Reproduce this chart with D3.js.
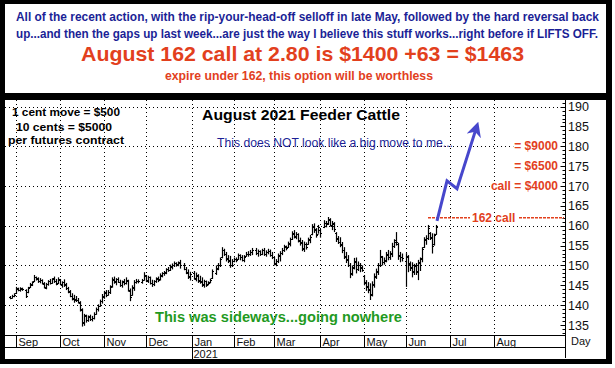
<!DOCTYPE html>
<meta charset="utf-8">
<script src="https://d3js.org/d3.v7.min.js"></script>
<style>
  body { margin: 0; background: #fff; }
  text { font-family: "Liberation Sans", Arial, sans-serif; }
</style>
<div id="chart"></div>
<script>

// daily bars, one per weekday starting Thu 27 Aug 2020 (null = exchange holiday)
var startDay = new Date(Date.UTC(2020, 7, 27));

var highs = [
  142.3,142.6,143.0,144.6,144.4,144.5,144.4,null,144.0,144.6,
  145.6,146.0,147.6,147.2,147.0,146.8,146.5,145.8,145.6,146.3,
  146.6,146.8,147.2,146.6,147.0,146.6,146.0,146.5,145.6,144.6,
  143.8,143.0,142.6,142.3,141.8,141.0,139.2,137.8,137.6,137.4,
  137.6,137.3,138.2,139.4,140.2,141.4,142.8,143.6,143.8,143.8,
  145.0,147.0,147.2,146.8,147.0,146.4,146.2,146.6,147.0,146.4,
  144.2,145.0,146.3,146.6,146.5,null,146.6,148.3,147.6,147.4,
  147.2,146.4,146.3,147.0,147.2,148.0,148.3,148.6,149.3,149.6,
  150.2,150.5,151.0,150.8,151.0,151.4,null,150.6,149.6,149.0,
  148.4,null,148.6,148.2,147.8,147.4,147.0,146.4,146.2,146.0,
  146.7,149.0,null,150.0,150.6,152.0,154.6,154.2,153.4,152.6,
  152.4,151.6,152.0,152.0,153.0,152.8,152.6,152.6,153.4,153.6,
  153.9,154.4,null,154.4,154.0,153.8,154.2,154.4,153.8,154.2,
  154.0,153.4,152.2,151.6,153.0,153.6,154.4,155.2,155.0,156.0,
  157.0,158.6,158.9,158.4,158.1,157.0,156.4,156.0,155.8,157.0,
  157.7,160.4,160.6,159.4,160.2,159.2,null,161.4,161.2,162.2,
  161.9,161.2,160.9,158.4,157.4,157.1,155.9,154.6,153.4,152.6,
  150.6,150.0,151.9,152.0,151.0,150.6,150.0,147.6,146.3,145.8,
  145.5,146.0,148.0,149.2,150.6,153.9,152.4,152.0,153.4,153.9,
  153.6,155.7,156.6,158.4,155.7,153.4,153.0,null,153.1,152.6,
  151.0,150.8,150.4,150.6,151.4,152.0,154.6,157.1,157.6,160.2,
  158.4,158.1,158.0,160.2
];

var lows = [
  141.5,141.7,142.0,142.8,143.5,143.4,143.6,null,141.8,143.0,
  144.3,144.8,145.8,146.2,145.6,145.5,145.2,144.2,144.0,144.9,
  145.2,145.4,145.6,145.0,145.3,145.0,144.4,144.6,143.8,143.0,
  142.0,141.2,140.6,140.8,140.4,138.4,134.6,134.8,135.6,135.8,
  136.0,135.9,136.4,137.6,138.4,139.6,140.4,141.6,142.0,142.4,
  142.8,144.4,145.4,145.0,145.6,144.6,144.4,145.0,145.2,143.4,
  141.0,142.4,143.6,145.4,145.5,null,145.4,146.2,145.8,145.6,
  145.2,144.6,144.8,145.6,145.8,146.2,147.0,147.4,147.8,148.4,
  148.6,149.0,149.6,149.7,149.8,149.2,null,148.8,147.8,146.6,
  146.2,null,146.4,146.0,145.6,145.4,144.6,144.4,144.6,145.0,
  145.5,146.6,null,147.6,148.8,149.6,151.8,152.4,151.0,150.6,
  149.4,149.6,150.8,150.8,151.4,151.3,151.0,150.8,152.2,152.2,
  152.4,152.6,null,152.6,152.2,152.4,152.6,152.4,152.2,152.8,
  152.2,151.6,150.0,149.8,150.6,151.0,152.6,153.4,153.8,154.4,
  154.8,156.4,156.8,156.6,155.8,155.0,153.6,153.4,154.0,155.2,
  155.6,157.6,158.2,157.0,158.0,157.0,null,159.4,159.6,160.2,
  159.8,158.9,158.4,155.9,155.4,154.6,153.1,151.6,150.6,149.6,
  146.8,147.4,149.0,148.0,148.6,148.3,148.4,145.0,143.6,143.0,
  141.3,142.2,144.4,146.6,147.6,149.6,150.0,150.2,150.8,151.3,
  151.4,152.1,154.4,155.0,151.4,150.8,151.0,null,144.6,148.3,
  148.6,147.0,147.6,147.6,146.3,148.6,150.8,154.4,155.2,156.4,
  156.4,153.0,155.0,157.7
];

var closes = [
  141.8,142.4,142.6,144.0,143.9,144.1,144.0,null,142.4,144.4,
  145.2,145.8,147.2,146.6,146.2,146.4,145.6,144.6,145.2,146.0,
  145.6,146.5,146.0,145.4,146.6,145.3,145.8,145.0,144.2,143.4,
  142.3,141.8,141.4,141.2,140.8,139.0,135.8,137.4,136.2,137.0,
  136.4,136.8,137.8,139.0,139.8,141.0,142.2,143.0,142.6,143.4,
  144.6,146.4,146.0,146.6,145.8,145.0,145.8,145.6,146.4,143.8,
  142.0,144.6,145.8,146.2,146.0,null,146.3,147.6,146.4,147.0,
  145.6,145.4,146.0,146.6,146.4,147.6,148.0,148.4,149.0,148.8,
  149.8,150.2,150.6,150.4,150.6,150.0,null,149.0,148.2,147.4,
  147.8,null,146.8,147.6,146.2,145.8,145.2,146.0,145.0,145.6,
  146.4,148.6,null,149.4,150.2,151.6,154.0,153.0,151.6,151.2,
  150.0,151.0,151.6,151.4,152.6,152.0,151.4,152.2,153.0,152.8,
  153.4,154.0,null,153.2,153.6,152.8,153.8,153.0,153.4,153.6,
  152.6,152.2,150.6,151.0,152.6,153.2,154.0,154.6,154.4,155.6,
  156.6,158.0,157.4,157.8,156.2,155.6,154.4,155.4,154.6,156.6,
  157.2,159.8,159.0,157.6,159.6,158.2,null,160.8,160.4,161.6,
  160.2,160.6,159.2,156.6,155.8,155.4,154.0,152.2,151.4,150.2,
  148.0,149.6,150.8,149.0,150.2,149.4,148.8,145.6,144.6,143.8,
  142.6,145.2,147.4,148.6,150.0,152.4,150.8,151.4,152.6,152.0,
  153.0,154.8,156.0,156.0,152.6,152.0,151.8,null,152.4,150.4,
  149.4,148.6,149.8,148.6,150.8,151.6,154.2,156.6,156.8,159.4,
  157.2,155.0,157.6,159.8
];

var opens = [
  142.0,141.9,142.3,143.0,144.2,143.8,144.2,null,143.8,143.2,
  144.5,145.0,146.0,147.0,146.8,146.0,146.3,145.4,144.4,145.2,
  146.2,145.6,146.8,146.2,145.5,146.4,145.0,145.9,145.2,144.3,
  143.5,142.4,141.6,141.6,141.4,140.6,138.8,135.6,137.2,136.2,
  137.2,136.4,136.8,137.8,139.0,139.8,141.0,142.0,143.2,142.6,
  143.2,144.8,146.6,145.8,146.6,145.8,145.0,146.0,145.6,146.2,
  143.6,142.6,144.4,145.8,146.2,null,145.8,146.4,147.4,146.2,
  147.0,145.6,145.2,146.0,146.8,146.6,147.4,148.0,148.2,149.2,
  148.8,149.6,150.0,150.6,150.2,150.8,null,150.2,149.2,148.4,
  147.2,null,148.0,146.6,147.4,146.4,146.0,145.0,146.0,145.2,
  145.8,146.8,null,148.2,149.2,150.0,152.0,153.8,153.0,151.8,
  151.4,150.2,151.0,151.6,151.6,152.6,152.0,151.4,152.4,153.0,
  152.8,153.4,null,154.0,153.2,153.6,152.8,153.8,153.0,153.4,
  153.6,152.6,152.0,150.4,151.0,152.4,153.2,154.0,154.8,154.6,
  155.4,156.6,158.2,157.2,157.8,156.4,155.8,154.2,155.4,155.4,
  156.4,157.8,160.0,159.2,158.0,159.0,null,159.6,160.8,160.6,
  161.4,160.0,160.4,158.2,156.8,156.0,155.2,154.0,152.4,151.6,
  150.0,147.8,149.4,151.0,149.0,150.2,149.6,147.4,145.8,144.8,
  144.0,142.8,145.0,147.2,148.4,150.2,152.2,150.8,151.2,152.8,
  152.2,153.2,154.8,156.4,155.4,152.4,152.2,null,151.0,152.0,
  150.6,149.6,148.4,150.0,148.4,150.6,151.8,154.6,156.4,156.8,
  158.2,157.0,155.4,157.8
];

// axis labels
var monthLabels = ["Sep","Oct","Nov","Dec","Jan","Feb","Mar","Apr","May","Jun","Jul","Aug"];
var yearLabel = "2021";
var yTicks = [135, 140, 145, 150, 155, 160, 165, 170, 175, 180, 185, 190];
var yGrid = [140, 150, 160, 170, 180, 190];

// option payoff notes (price level, text)
var payoffLevels = [180, 175, 170];
var payoffTexts = ["= $9000", "= $6500", "call = $4000"];
var strike = 162;

// projected path of the arrow (weekday index, price)
var arrowIdx = [213.5, 218.5, 223.5, 233];
var arrowPrice = [161.2, 171.3, 169.3, 184.4];

var W = 615, H = 368;
var plotLeft = 5, plotRight = 565, plotTop = 100, plotBottom = 335;

var svg = d3.select("#chart").append("svg")
    .attr("width", W)
    .attr("height", H);

// frame: black outer band, two white panels
svg.append("rect").attr("x", 0).attr("y", 0).attr("width", 612).attr("height", 364).attr("fill", "#000");
svg.append("rect").attr("x", 5).attr("y", 4).attr("width", 601).attr("height", 89).attr("fill", "#fff");
svg.append("rect").attr("x", 5).attr("y", 100).attr("width", 601).attr("height", 259).attr("fill", "#fff");

// ---- top commentary
var navy = "#1b1f96", red = "#e2401d", green = "#1f9a22", arrowBlue = "#4747cc";

svg.append("text").attr("x", 16).attr("y", 21)
  .attr("font-size", 12).attr("font-weight", "bold").attr("fill", navy)
  .attr("textLength", 583).attr("lengthAdjust", "spacingAndGlyphs")
  .text("All of the recent action, with the rip-your-head-off selloff in late May, followed by the hard reversal back");
svg.append("text").attr("x", 16).attr("y", 38)
  .attr("font-size", 12).attr("font-weight", "bold").attr("fill", navy)
  .attr("textLength", 582).attr("lengthAdjust", "spacingAndGlyphs")
  .text("up...and then the gaps up last week...are just the way I believe this stuff works...right before if LIFTS OFF.");
svg.append("text").attr("x", 81).attr("y", 61)
  .attr("font-size", 21).attr("font-weight", "bold").attr("fill", red)
  .attr("textLength", 443).attr("lengthAdjust", "spacingAndGlyphs")
  .text("August 162 call at 2.80 is $1400 +63 = $1463");
svg.append("text").attr("x", 165).attr("y", 80)
  .attr("font-size", 12).attr("font-weight", "bold").attr("fill", red)
  .attr("textLength", 268).attr("lengthAdjust", "spacingAndGlyphs")
  .text("expire under 162, this option will be worthless");

// ---- scales
var days = d3.utcDays(startDay, new Date(Date.UTC(2021, 8, 20)))
  .filter(function(d) { return d.getUTCDay() % 6 !== 0; });

var x = d3.scaleLinear().domain([-2.5, 277.5]).range([plotLeft, plotRight]);
var y = d3.scaleLinear().domain([135, 190]).range([325, 106.6]);

// first weekday of every month
var monthStarts = [];
days.forEach(function(d, i) {
  if (i > 0 && d.getUTCMonth() !== days[i - 1].getUTCMonth() && x(i) < plotRight) monthStarts.push(i);
});
monthStarts = monthStarts.slice(0, monthLabels.length);

function px(v) { return Math.round(v) + 0.5; }

// ---- dotted grid
var grid = svg.append("g").attr("stroke", "#000").attr("stroke-width", 1).attr("stroke-dasharray", "1,3");
grid.selectAll(".hg").data(yGrid).enter().append("line")
  .attr("x1", plotLeft).attr("x2", plotRight)
  .attr("y1", function(d) { return px(y(d)); })
  .attr("y2", function(d) { return px(y(d)); });
grid.selectAll(".vg").data(monthStarts).enter().append("line")
  .attr("x1", function(d) { return px(x(d)); })
  .attr("x2", function(d) { return px(x(d)); })
  .attr("y1", plotTop).attr("y2", plotBottom);

// ---- OHLC bars
var bars = svg.append("g").attr("stroke", "#000").attr("stroke-width", 1.2);
highs.forEach(function(h, i) {
  if (h === null) return;
  var cx = px(x(i));
  bars.append("line").attr("x1", cx).attr("x2", cx).attr("y1", y(h)).attr("y2", y(lows[i]));
  bars.append("line").attr("x1", cx - 1.5).attr("x2", cx).attr("y1", px(y(opens[i]))).attr("y2", px(y(opens[i])));
  bars.append("line").attr("x1", cx).attr("x2", cx + 1.5).attr("y1", px(y(closes[i]))).attr("y2", px(y(closes[i])));
});

// ---- right price axis
var axis = svg.append("g");
axis.append("line").attr("x1", px(plotRight)).attr("x2", px(plotRight))
  .attr("y1", plotTop).attr("y2", 358).attr("stroke", "#000");
axis.selectAll(".minor").data(d3.range(133, 192)).enter().append("line")
  .attr("x1", function(d) { return px(plotRight) - (d % 5 === 0 ? 5 : 3); })
  .attr("x2", px(plotRight))
  .attr("y1", function(d) { return px(y(d)); })
  .attr("y2", function(d) { return px(y(d)); })
  .attr("stroke", "#000");
axis.selectAll(".lab").data(yTicks).enter().append("text")
  .attr("x", 568)
  .attr("y", function(d) { return y(d) + 4.5; })
  .attr("font-size", 12.5).attr("fill", "#111")
  .text(function(d) { return d; });
axis.append("text").attr("x", 571).attr("y", 345).attr("font-size", 11).attr("fill", "#111").text("Day");

// ---- month band
var band = svg.append("g").attr("stroke", "#000");
band.append("line").attr("x1", plotLeft).attr("x2", plotRight).attr("y1", 335.5).attr("y2", 335.5);
band.append("line").attr("x1", plotLeft).attr("x2", plotRight).attr("y1", 347.5).attr("y2", 347.5);
band.selectAll(".mt").data(monthStarts).enter().append("line")
  .attr("x1", function(d) { return px(x(d)); })
  .attr("x2", function(d) { return px(x(d)); })
  .attr("y1", 335.5).attr("y2", 347.5);
svg.selectAll(".ml").data(monthStarts).enter().append("text")
  .attr("x", function(d) { return px(x(d)) + 2; })
  .attr("y", 345.5)
  .attr("font-size", 11).attr("fill", "#111")
  .text(function(d, i) { return monthLabels[i]; });

var janIdx = monthStarts[monthLabels.indexOf("Jan")];
band.append("line").attr("x1", px(x(janIdx))).attr("x2", px(x(janIdx))).attr("y1", 347.5).attr("y2", 359);
svg.append("text").attr("x", px(x(janIdx)) + 1).attr("y", 357.5)
  .attr("font-size", 11).attr("fill", "#111").text(yearLabel);

// ---- chart notes
svg.append("text").attr("x", 12).attr("y", 115.5).attr("font-size", 11.5).attr("font-weight", "bold")
  .attr("textLength", 108).attr("lengthAdjust", "spacingAndGlyphs").text("1 cent move = $500");
svg.append("text").attr("x", 16).attr("y", 131).attr("font-size", 11.5).attr("font-weight", "bold")
  .attr("textLength", 96).attr("lengthAdjust", "spacingAndGlyphs").text("10 cents = $5000");
svg.append("text").attr("x", 8).attr("y", 144).attr("font-size", 11.5).attr("font-weight", "bold")
  .attr("textLength", 116).attr("lengthAdjust", "spacingAndGlyphs").text("per futures contract");

svg.append("text").attr("x", 202).attr("y", 119.5).attr("font-size", 14.5).attr("font-weight", "bold")
  .attr("textLength", 198).attr("lengthAdjust", "spacingAndGlyphs").text("August 2021 Feeder Cattle");
svg.append("text").attr("x", 217).attr("y", 147).attr("font-size", 12).attr("fill", navy)
  .attr("textLength", 236).attr("lengthAdjust", "spacingAndGlyphs").text("This does NOT look like a big move to me...");

svg.append("text").attr("x", 155).attr("y", 322).attr("font-size", 15.5).attr("font-weight", "bold").attr("fill", green)
  .attr("textLength", 247).attr("lengthAdjust", "spacingAndGlyphs").text("This was sideways...going nowhere");

// payoff labels at their price levels, knocked out of the grid
var pay = svg.selectAll(".pay").data(payoffLevels).enter().append("g");
pay.append("text")
  .attr("x", 558).attr("y", function(d) { return y(d) + 4; })
  .attr("text-anchor", "end").attr("font-size", 12).attr("font-weight", "bold").attr("fill", red)
  .text(function(d, i) { return payoffTexts[i]; })
  .each(function() {
    var b = this.getBBox();
    d3.select(this.parentNode).insert("rect", "text")
      .attr("x", b.x - 1).attr("y", b.y + 2).attr("width", b.width + 2).attr("height", b.height - 4)
      .attr("fill", "#fff");
  });

// strike line
var sy = y(strike);
svg.append("line").attr("x1", 428).attr("x2", 470).attr("y1", sy).attr("y2", sy)
  .attr("stroke", red).attr("stroke-width", 1.5).attr("stroke-dasharray", "3,1");
svg.append("line").attr("x1", 519).attr("x2", 564).attr("y1", sy).attr("y2", sy)
  .attr("stroke", red).attr("stroke-width", 1.5).attr("stroke-dasharray", "3,1");
svg.append("text").attr("x", 472).attr("y", sy + 4.5).attr("font-size", 12).attr("font-weight", "bold")
  .attr("fill", red).text(strike + " call");

// projected arrow
svg.append("defs").append("marker")
  .attr("id", "head").attr("viewBox", "0 0 10 10").attr("refX", 5).attr("refY", 5)
  .attr("markerWidth", 5).attr("markerHeight", 5).attr("orient", "auto")
  .append("path").attr("d", "M0,0 L10,5 L0,10 L3,5 z").attr("fill", arrowBlue);

svg.append("path")
  .attr("d", d3.line()(arrowIdx.map(function(d, i) { return [x(d), y(arrowPrice[i])]; })))
  .attr("fill", "none").attr("stroke", arrowBlue).attr("stroke-width", 3)
  .attr("stroke-linejoin", "miter")
  .attr("marker-end", "url(#head)");

</script>
